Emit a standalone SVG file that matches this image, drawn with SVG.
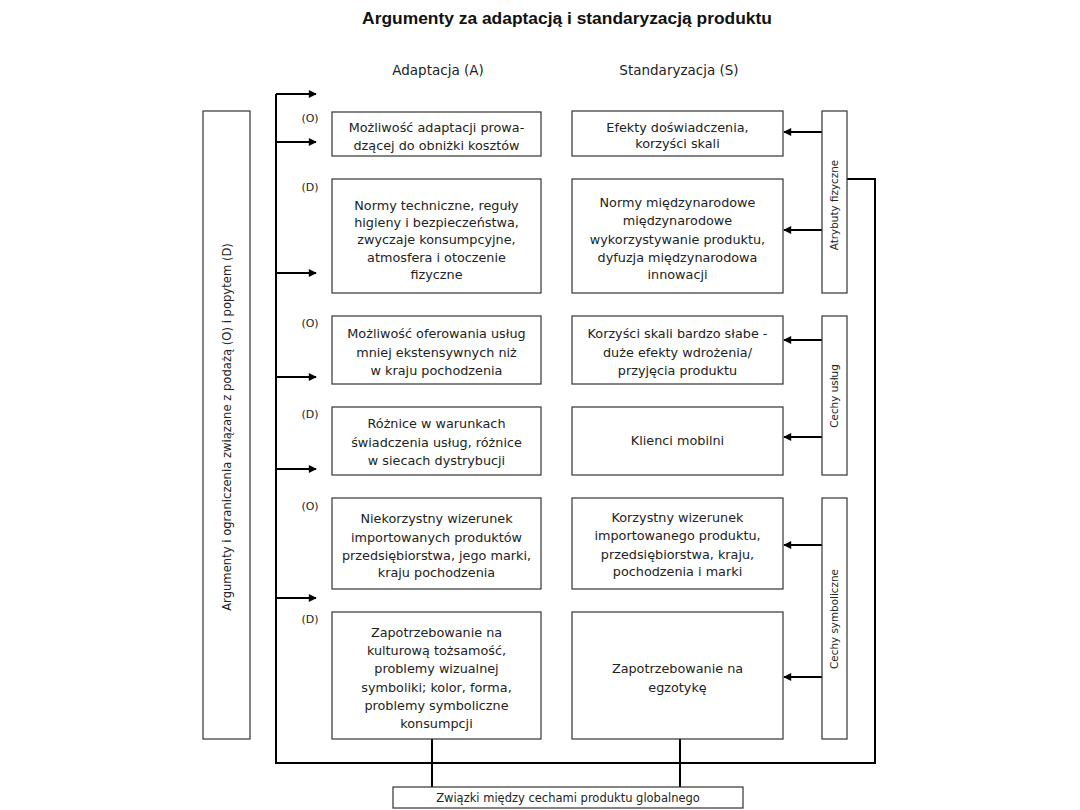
<svg xmlns="http://www.w3.org/2000/svg" width="1080" height="810" viewBox="0 0 1080 810">
<defs>
<marker id="ah" viewBox="0 0 10 10" refX="9" refY="5" markerWidth="9" markerHeight="8" markerUnits="userSpaceOnUse" orient="auto">
<path d="M0,0 L10,5 L0,10 z" fill="#000"/>
</marker>
<style>
.box{fill:#fff;stroke:#333;stroke-width:1.2}
.t{font-family:"DejaVu Sans",Verdana,sans-serif;font-size:12.8px;fill:#222;text-anchor:middle}
.lab{font-family:"DejaVu Sans",Verdana,sans-serif;font-size:11px;fill:#222;text-anchor:middle}
.side{font-family:"DejaVu Sans",Verdana,sans-serif;font-size:10.4px;fill:#222;text-anchor:middle}
.hd{font-family:"DejaVu Sans",Verdana,sans-serif;font-size:13.5px;fill:#222;text-anchor:middle}
.ttl{font-family:"Liberation Sans",Arial,sans-serif;font-size:17.4px;font-weight:bold;fill:#111;text-anchor:middle}
.ln{fill:none;stroke:#000;stroke-width:2}
.ar{fill:none;stroke:#000;stroke-width:2;marker-end:url(#ah)}
</style>
</defs>
<rect width="1080" height="810" fill="#fff"/>
<text class="ttl" x="567" y="24">Argumenty za adaptacją i standaryzacją produktu</text>
<text class="hd" x="438" y="75">Adaptacja (A)</text>
<text class="hd" x="679" y="75">Standaryzacja (S)</text>

<g id="connectors">
<path class="ln" d="M276,94 V763 H875 V179 H847"/>
<path class="ln" d="M432,739 V787"/>
<path class="ln" d="M680,739 V787"/>
<path class="ar" d="M276,94 H316"/>
<path class="ar" d="M276,142 H316"/>
<path class="ar" d="M276,273 H316"/>
<path class="ar" d="M276,377 H316"/>
<path class="ar" d="M276,469 H316"/>
<path class="ar" d="M276,598 H316"/>
<path class="ar" d="M822,132 H784"/>
<path class="ar" d="M822,230 H784"/>
<path class="ar" d="M822,340 H784"/>
<path class="ar" d="M822,437 H784"/>
<path class="ar" d="M822,545 H784"/>
<path class="ar" d="M822,677 H784"/>
</g>

<g id="left-bar">
<rect class="box" x="203" y="111" width="47" height="628"/>
<text class="side" style="font-size:11.6px" transform="translate(231,427) rotate(-90)">Argumenty i ograniczenia związane z podażą (O) i popytem (D)</text>
</g>

<g id="bar-fizyczne">
<rect class="box" x="822" y="111" width="25" height="182"/>
<text class="side" transform="translate(838,205) rotate(-90)">Atrybuty fizyczne</text>
</g>
<g id="bar-uslug">
<rect class="box" x="822" y="316" width="25" height="159"/>
<text class="side" transform="translate(838,396) rotate(-90)">Cechy usług</text>
</g>
<g id="bar-symboliczne">
<rect class="box" x="822" y="498" width="25" height="241"/>
<text class="side" transform="translate(838,619) rotate(-90)">Cechy symboliczne</text>
</g>

<g id="a1">
<text class="lab" x="310" y="122">(O)</text>
<rect class="box" x="332" y="112" width="209" height="44"/>
<text class="t" x="436.5" y="132">Możliwość adaptacji prowa-</text>
<text class="t" x="436.5" y="150">dzącej do obniżki kosztów</text>
</g>
<g id="a2">
<text class="lab" x="310" y="191">(D)</text>
<rect class="box" x="332" y="179" width="209" height="114"/>
<text class="t" x="436.5" y="210">Normy techniczne, reguły</text>
<text class="t" x="436.5" y="227">higieny i bezpieczeństwa,</text>
<text class="t" x="436.5" y="244">zwyczaje konsumpcyjne,</text>
<text class="t" x="436.5" y="262">atmosfera i otoczenie</text>
<text class="t" x="436.5" y="279">fizyczne</text>
</g>
<g id="a3">
<text class="lab" x="310" y="327">(O)</text>
<rect class="box" x="332" y="316" width="209" height="68"/>
<text class="t" x="436.5" y="338">Możliwość oferowania usług</text>
<text class="t" x="436.5" y="357">mniej ekstensywnych niż</text>
<text class="t" x="436.5" y="375">w kraju pochodzenia</text>
</g>
<g id="a4">
<text class="lab" x="310" y="418">(D)</text>
<rect class="box" x="332" y="407" width="209" height="68"/>
<text class="t" x="436.5" y="428">Różnice w warunkach</text>
<text class="t" x="436.5" y="447">świadczenia usług, różnice</text>
<text class="t" x="436.5" y="465">w siecach dystrybucji</text>
</g>
<g id="a5">
<text class="lab" x="310" y="510">(O)</text>
<rect class="box" x="332" y="498" width="209" height="91"/>
<text class="t" x="436.5" y="523">Niekorzystny wizerunek</text>
<text class="t" x="436.5" y="542">importowanych produktów</text>
<text class="t" x="436.5" y="560">przedsiębiorstwa, jego marki,</text>
<text class="t" x="436.5" y="577">kraju pochodzenia</text>
</g>
<g id="a6">
<text class="lab" x="310" y="623">(D)</text>
<rect class="box" x="332" y="612" width="209" height="127"/>
<text class="t" x="436.5" y="637">Zapotrzebowanie na</text>
<text class="t" x="436.5" y="655">kulturową tożsamość,</text>
<text class="t" x="436.5" y="673">problemy wizualnej</text>
<text class="t" x="436.5" y="692">symboliki; kolor, forma,</text>
<text class="t" x="436.5" y="710">problemy symboliczne</text>
<text class="t" x="436.5" y="728">konsumpcji</text>
</g>

<g id="s1">
<rect class="box" x="572" y="111" width="211" height="45"/>
<text class="t" x="677.5" y="132">Efekty doświadczenia,</text>
<text class="t" x="677.5" y="148">korzyści skali</text>
</g>
<g id="s2">
<rect class="box" x="572" y="179" width="211" height="114"/>
<text class="t" x="677.5" y="207">Normy międzynarodowe</text>
<text class="t" x="677.5" y="225">międzynarodowe</text>
<text class="t" x="677.5" y="244">wykorzystywanie produktu,</text>
<text class="t" x="677.5" y="262">dyfuzja międzynarodowa</text>
<text class="t" x="677.5" y="279">innowacji</text>
</g>
<g id="s3">
<rect class="box" x="572" y="316" width="211" height="68"/>
<text class="t" x="677.5" y="338">Korzyści skali bardzo słabe -</text>
<text class="t" x="677.5" y="357">duże efekty wdrożenia/</text>
<text class="t" x="677.5" y="375">przyjęcia produktu</text>
</g>
<g id="s4">
<rect class="box" x="572" y="407" width="211" height="68"/>
<text class="t" x="677.5" y="445">Klienci mobilni</text>
</g>
<g id="s5">
<rect class="box" x="572" y="498" width="211" height="91"/>
<text class="t" x="677.5" y="522">Korzystny wizerunek</text>
<text class="t" x="677.5" y="540">importowanego produktu,</text>
<text class="t" x="677.5" y="559">przedsiębiorstwa, kraju,</text>
<text class="t" x="677.5" y="576">pochodzenia i marki</text>
</g>
<g id="s6">
<rect class="box" x="572" y="612" width="211" height="127"/>
<text class="t" x="677.5" y="673">Zapotrzebowanie na</text>
<text class="t" x="677.5" y="692">egzotykę</text>
</g>

<g id="bottom">
<rect class="box" x="393" y="787" width="350" height="21"/>
<text class="t" x="568" y="802" style="font-size:11.5px">Związki między cechami produktu globalnego</text>
</g>
</svg>
